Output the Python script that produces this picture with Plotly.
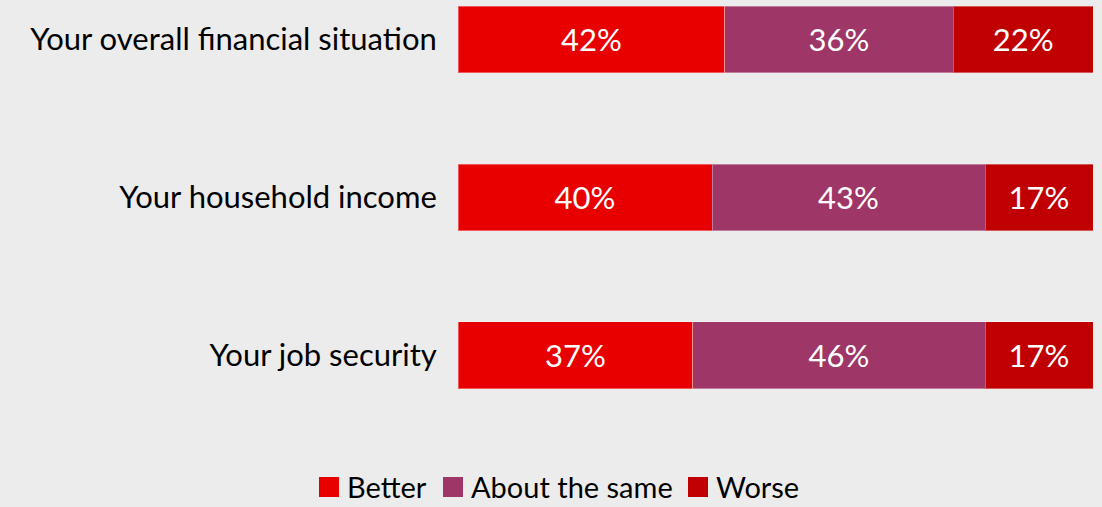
import plotly.graph_objects as go

categories = ["Your overall financial situation", "Your household income", "Your job security"]
series_names = ["Better", "About the same", "Worse"]
better = [42, 40, 37]
same = [36, 43, 46]
worse = [22, 17, 17]
colors = ["#e80000", "#9e3667", "#c00000"]

FONT = "Lato"
FS = 31
LEG_FS = 29
W, H = 1102, 507
ML, MR = 458, 9

fig = go.Figure()

for name, vals, col in zip(series_names, [better, same, worse], colors):
    fig.add_trace(go.Bar(
        y=categories, x=vals, orientation="h", name=name,
        marker=dict(color=col, line=dict(color="rgba(255,255,255,0.35)", width=1)),
        text=[f"{v}%" for v in vals], textposition="inside",
        insidetextanchor="middle",
        textfont=dict(color="white", size=FS, family=FONT),
        showlegend=False, hoverinfo="skip",
    ))

# hand-drawn legend below the bars: 20px squares followed by labels
def px_to_paper_x(px):
    return (px - ML) / (W - ML - MR)

def py_to_paper_y(py):
    return 1 - py / H

swatch_left = [319, 443, 688]
LEG_Y = 486  # vertical centre of the legend row, in pixels from the top
for name, col, sx in zip(series_names, colors, swatch_left):
    fig.add_shape(type="rect", xref="paper", yref="paper",
                  x0=px_to_paper_x(sx), x1=px_to_paper_x(sx + 20),
                  y0=py_to_paper_y(LEG_Y + 11), y1=py_to_paper_y(LEG_Y - 9),
                  fillcolor=col, line=dict(width=0), layer="above")
    fig.add_annotation(xref="paper", yref="paper",
                       x=px_to_paper_x(sx + 26), y=py_to_paper_y(LEG_Y),
                       xanchor="left", yanchor="middle", showarrow=False,
                       text=name, font=dict(size=LEG_FS, family=FONT, color="#000000"))

fig.update_layout(
    width=W, height=H,
    margin=dict(l=ML, r=MR, t=0, b=0),
    paper_bgcolor="#ececec", plot_bgcolor="#ececec",
    barmode="stack", bargap=0.576,
    font=dict(family=FONT, size=FS, color="#000000"),
    uniformtext=dict(mode="show", minsize=FS),
    showlegend=False,
    xaxis=dict(range=[0, 100], visible=False, fixedrange=True),
    yaxis=dict(categoryorder="array", categoryarray=categories,
               range=[2.959, -0.25], showgrid=False, zeroline=False,
               ticks="outside", ticklen=14, tickcolor="rgba(0,0,0,0)",
               tickfont=dict(size=FS, family=FONT, color="#000000")),
)

fig.write_html("out.html")
